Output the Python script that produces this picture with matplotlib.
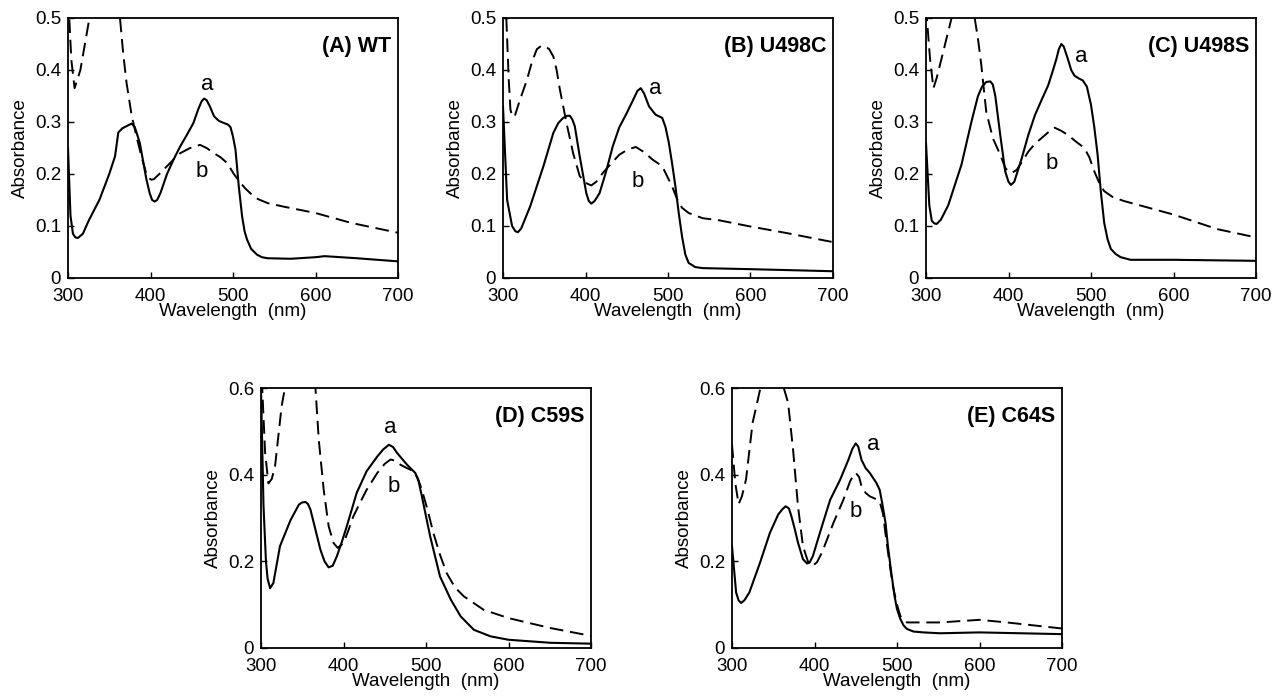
import numpy as np
import matplotlib
matplotlib.use('Agg')
import matplotlib.pyplot as plt

plt.rcParams['font.family'] = ['Liberation Sans', 'DejaVu Sans']

# ---- panel A: WT ----
wt_a_x = [300, 303, 306, 309, 312, 318, 325, 338, 350, 357, 361, 366, 371, 377, 381, 387, 391, 395, 399, 402, 405,
          408, 412, 420, 428, 436, 444, 452, 458, 462, 465, 468, 472, 477, 483, 489, 494, 497, 500, 503, 507, 511,
          514, 517, 522, 529, 535, 542, 570, 600, 611, 650, 700]
wt_a_y = [0.25, 0.12, 0.085, 0.078, 0.077, 0.085, 0.11, 0.15, 0.2, 0.234, 0.28, 0.288, 0.292, 0.297, 0.29, 0.26,
          0.225, 0.19, 0.163, 0.15, 0.147, 0.15, 0.163, 0.2, 0.228, 0.253, 0.275, 0.298, 0.325, 0.34, 0.345, 0.342,
          0.33, 0.311, 0.302, 0.298, 0.295, 0.29, 0.272, 0.247, 0.176, 0.119, 0.09, 0.074, 0.056, 0.045, 0.04,
          0.038, 0.037, 0.04, 0.042, 0.038, 0.032]
wt_b_x = [300, 304, 308, 315, 326, 345, 363, 367, 371, 377, 383, 389, 395, 398, 401, 404, 408, 414, 420, 428, 436,
          448, 460, 468, 477, 485, 493, 501, 509, 515, 521, 530, 542, 562, 600, 643, 700]
wt_b_y = [0.55, 0.42, 0.365, 0.4, 0.5, 0.6, 0.5, 0.43, 0.375, 0.314, 0.272, 0.234, 0.2, 0.192, 0.189, 0.19, 0.196,
          0.205, 0.215, 0.228, 0.24, 0.25, 0.256, 0.25, 0.24, 0.232, 0.221, 0.2, 0.183, 0.172, 0.163, 0.152, 0.144,
          0.137, 0.125, 0.106, 0.087]

# ---- panel B: U498C ----
uc_a_x = [300, 305, 311, 315, 318, 322, 333, 349, 361, 367, 373, 378, 381, 384, 387, 393, 401, 404, 407, 411, 417,
          425, 433, 441, 449, 457, 463, 467, 471, 477, 485, 493, 497, 501, 505, 509, 513, 517, 521, 525, 533, 542,
          600, 700]
uc_a_y = [0.33, 0.15, 0.1, 0.09, 0.088, 0.095, 0.138, 0.215, 0.279, 0.298, 0.308, 0.312, 0.312, 0.305, 0.292,
          0.234, 0.163, 0.148, 0.143, 0.148, 0.163, 0.205, 0.253, 0.29, 0.314, 0.34, 0.36, 0.365, 0.355, 0.33,
          0.314, 0.308, 0.29, 0.26, 0.22, 0.176, 0.125, 0.08, 0.045, 0.029, 0.021, 0.019, 0.017, 0.013]
uc_b_x = [304, 307, 309, 311, 314, 320, 329, 335, 341, 346, 351, 356, 361, 365, 369, 377, 385, 393, 400, 407, 413,
          421, 431, 441, 451, 461, 471, 481, 493, 505, 511, 517, 525, 542, 562, 600, 642, 700]
uc_b_y = [0.5, 0.38, 0.324, 0.312, 0.31, 0.34, 0.381, 0.415, 0.44, 0.446, 0.446, 0.44, 0.426, 0.4, 0.362, 0.298,
          0.24, 0.196, 0.183, 0.178, 0.185, 0.202, 0.22, 0.237, 0.247, 0.252, 0.242, 0.228, 0.215, 0.176, 0.152,
          0.135, 0.125, 0.115, 0.111, 0.099, 0.087, 0.069]

# ---- panel C: U498S ----
us_a_x = [300, 304, 307, 310, 313, 318, 327, 343, 355, 363, 368, 373, 378, 381, 384, 390, 396, 400, 403, 407, 416,
          424, 432, 440, 448, 454, 458, 461, 464, 467, 472, 476, 480, 485, 490, 495, 500, 504, 508, 512, 516, 520,
          524, 530, 536, 548, 600, 700]
us_a_y = [0.26, 0.14, 0.11, 0.105, 0.104, 0.112, 0.14, 0.218, 0.3, 0.35, 0.368, 0.377, 0.378, 0.372, 0.35, 0.275,
          0.205, 0.185, 0.179, 0.185, 0.23, 0.275, 0.313, 0.342, 0.37, 0.4, 0.421, 0.44, 0.45, 0.445, 0.421, 0.4,
          0.389, 0.384, 0.38, 0.368, 0.333, 0.29, 0.237, 0.165, 0.106, 0.075, 0.056, 0.046, 0.04, 0.035, 0.035,
          0.033]
us_b_x = [300, 305, 309, 313, 319, 331, 345, 359, 363, 367, 373, 381, 390, 396, 400, 405, 410, 417, 424, 432, 440,
          448, 456, 464, 472, 482, 492, 498, 504, 510, 516, 526, 540, 570, 600, 653, 700]
us_b_y = [0.52, 0.42, 0.365, 0.385, 0.423, 0.5, 0.56, 0.5, 0.46, 0.41, 0.32, 0.269, 0.237, 0.212, 0.204, 0.203,
          0.208, 0.225, 0.243, 0.258, 0.269, 0.28, 0.289, 0.283, 0.275, 0.262, 0.25, 0.232, 0.205, 0.183, 0.167,
          0.156, 0.148, 0.135, 0.122, 0.094, 0.078]

# ---- panel D: C59S ----
cn_a_x = [300, 303, 306, 308, 311, 315, 323, 336, 346, 350, 354, 357, 360, 366, 372, 377, 382, 387, 392, 398, 404,
          416, 428, 441, 448, 455, 460, 465, 477, 487, 491, 495, 505, 517, 530, 542, 558, 578, 600, 651, 700]
cn_a_y = [0.6, 0.33, 0.2, 0.16, 0.138, 0.15, 0.235, 0.296, 0.331, 0.336, 0.337, 0.332, 0.319, 0.273, 0.227, 0.2,
          0.186, 0.19, 0.212, 0.245, 0.281, 0.358, 0.408, 0.442, 0.458, 0.469, 0.464, 0.45, 0.423, 0.404, 0.385,
          0.35, 0.258, 0.165, 0.112, 0.073, 0.042, 0.027, 0.019, 0.012, 0.01]
cn_b_x = [301, 305, 309, 313, 317, 325, 329, 345, 366, 370, 376, 382, 388, 393, 400, 406, 412, 420, 428, 441, 450,
          457, 463, 469, 477, 485, 490, 495, 502, 509, 517, 525, 535, 546, 570, 600, 651, 700]
cn_b_y = [0.62, 0.45, 0.38, 0.39, 0.419, 0.558, 0.6, 0.7, 0.6, 0.481, 0.365, 0.281, 0.242, 0.231, 0.242, 0.272,
          0.304, 0.335, 0.365, 0.404, 0.425, 0.435, 0.432, 0.423, 0.415, 0.408, 0.392, 0.365, 0.318, 0.265, 0.215,
          0.173, 0.14, 0.119, 0.088, 0.069, 0.046, 0.028]

# ---- panel E: C64S ----
cs_a_x = [300, 305, 308, 311, 315, 321, 334, 346, 356, 361, 365, 369, 372, 376, 380, 386, 391, 394, 398, 409, 419,
          431, 441, 446, 450, 453, 457, 462, 467, 475, 479, 482, 486, 489, 493, 497, 500, 504, 508, 512, 520, 532,
          552, 600, 700]
cs_a_y = [0.235, 0.128, 0.11, 0.104, 0.11, 0.128, 0.197, 0.266, 0.308, 0.32, 0.327, 0.322, 0.304, 0.275, 0.243,
          0.205, 0.195, 0.197, 0.212, 0.281, 0.342, 0.388, 0.434, 0.46, 0.472, 0.465, 0.434, 0.415, 0.404, 0.381,
          0.365, 0.335, 0.29, 0.235, 0.175, 0.12, 0.09, 0.067, 0.052, 0.044, 0.038, 0.036, 0.034, 0.036, 0.032]
cs_b_x = [300, 304, 308, 312, 317, 325, 334, 340, 350, 362, 368, 374, 380, 386, 392, 398, 403, 409, 423, 435, 443,
          447, 450, 454, 457, 462, 467, 473, 479, 483, 487, 491, 495, 500, 504, 512, 552, 600, 633, 700]
cs_b_y = [0.47, 0.38, 0.332, 0.35, 0.389, 0.52, 0.596, 0.605, 0.61, 0.605, 0.566, 0.458, 0.327, 0.235, 0.2, 0.19,
          0.198, 0.22, 0.289, 0.342, 0.384, 0.398, 0.404, 0.395, 0.373, 0.358, 0.35, 0.345, 0.338, 0.31, 0.25,
          0.195, 0.143, 0.1, 0.074, 0.059, 0.059, 0.065, 0.059, 0.045]

titles = ['(A) WT', '(B) U498C', '(C) U498S', '(D) C59S', '(E) C64S']
ymaxs = [0.5, 0.5, 0.5, 0.6, 0.6]
series = [(wt_a_x, wt_a_y, wt_b_x, wt_b_y),
          (uc_a_x, uc_a_y, uc_b_x, uc_b_y),
          (us_a_x, us_a_y, us_b_x, us_b_y),
          (cn_a_x, cn_a_y, cn_b_x, cn_b_y),
          (cs_a_x, cs_a_y, cs_b_x, cs_b_y)]
# label positions for "a" and "b" (wavelength, absorbance)
a_pos = [(469, 0.372), (485, 0.365), (488, 0.425), (457, 0.51), (471, 0.47)]
b_pos = [(462, 0.205), (463, 0.186), (452, 0.22), (461, 0.373), (450, 0.316)]

# axes boxes in pixels: left, top
W, H = 1274, 698
boxes = [(68, 18), (503, 18), (926, 18), (261, 388), (732, 388)]
aw, ah = 330, 260

fig = plt.figure(figsize=(W / 100, H / 100), dpi=100)

for i in range(5):
    l, t = boxes[i]
    ax = fig.add_axes([l / W, 1 - (t + ah) / H, aw / W, ah / H])
    sx, sy, dx, dy = series[i]
    ax.plot(sx, sy, color='black', lw=1.5)
    ax.plot(dx, dy, color='black', lw=1.4, dashes=(7, 3.5))
    ax.set_xlim(300, 700)
    ax.set_ylim(0, ymaxs[i])
    ax.set_xticks([300, 400, 500, 600, 700])
    if ymaxs[i] == 0.5:
        ax.set_yticks([0, 0.1, 0.2, 0.3, 0.4, 0.5])
        ax.set_yticklabels(['0', '0.1', '0.2', '0.3', '0.4', '0.5'])
    else:
        ax.set_yticks([0, 0.2, 0.4, 0.6])
        ax.set_yticklabels(['0', '0.2', '0.4', '0.6'])
    ax.tick_params(direction='in', length=4, width=1, labelsize=13.5)
    ax.tick_params(axis='x', pad=7)
    ax.tick_params(axis='y', pad=5)
    for s in ax.spines.values():
        s.set_linewidth(1.3)
    ax.set_xlabel('Wavelength  (nm)', fontsize=13.5, labelpad=-1)
    ax.set_ylabel('Absorbance', fontsize=13.5, labelpad=4)
    ax.text(692, ymaxs[i] * 0.89, titles[i], ha='right', va='center', fontsize=15.5, fontweight='bold')
    ax.text(a_pos[i][0], a_pos[i][1], 'a', ha='center', va='center', fontsize=16)
    ax.text(b_pos[i][0], b_pos[i][1], 'b', ha='center', va='center', fontsize=16)

fig.savefig('out.png', dpi=100)
